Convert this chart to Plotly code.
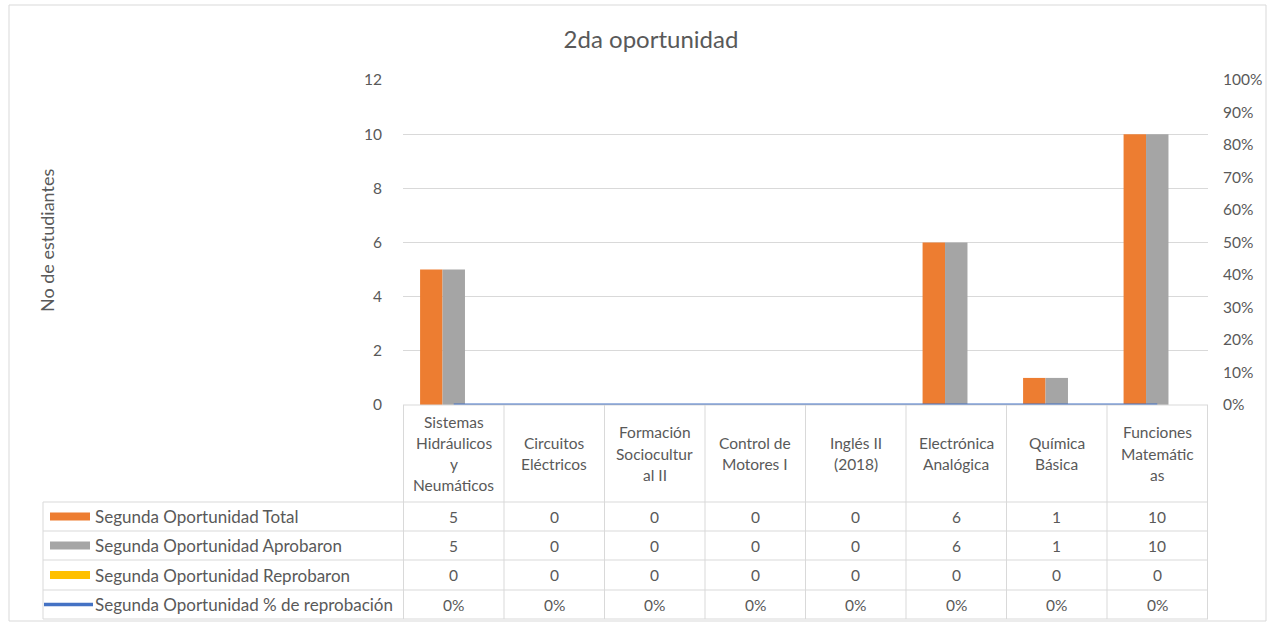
import plotly.graph_objects as go

# -- data
categories = ["Sistemas Hidráulicos y Neumáticos", "Circuitos Eléctricos",
              "Formación Sociocultural II", "Control de Motores I",
              "Inglés II (2018)", "Electrónica Analógica", "Química Básica",
              "Funciones Matemáticas"]
header_labels = [["Sistemas", "Hidráulicos", "y", "Neumáticos"], ["Circuitos", "Eléctricos"],
                 ["Formación", "Sociocultur", "al II"], ["Control de", "Motores I"],
                 ["Inglés II", "(2018)"], ["Electrónica", "Analógica"], ["Química", "Básica"],
                 ["Funciones", "Matemátic", "as"]]
total = [5, 0, 0, 0, 0, 6, 1, 10]
aprobaron = [5, 0, 0, 0, 0, 6, 1, 10]
reprobaron = [0, 0, 0, 0, 0, 0, 0, 0]
pct_reprobacion = [0, 0, 0, 0, 0, 0, 0, 0]

series_names = ["Segunda Oportunidad Total", "Segunda Oportunidad Aprobaron",
                "Segunda Oportunidad Reprobaron", "Segunda Oportunidad % de reprobación"]
colors = ["#ED7D31", "#A5A5A5", "#FFC000", "#4472C4"]

W, H = 1275, 626
FONT = "Lato"
TXT = "#595959"
GRID = "#d9d9d9"
FS = 15.5


def px(x):
    return x / W


def py(y):
    return 1 - y / H


fig = go.Figure()
for vals, name, col in zip([total, aprobaron, reprobaron], series_names[:3], colors[:3]):
    fig.add_trace(go.Bar(x=categories, y=vals, name=name, marker_color=col,
                         marker_line_width=0))
fig.add_trace(go.Scatter(x=categories, y=pct_reprobacion, name=series_names[3],
                         mode="lines", line=dict(color=colors[3], width=3), yaxis="y2"))

# -- data table under the plot
row_edges = [405, 502, 531, 560, 590, 619]
left_x = 43
plot_l, plot_r = 403, 1208

shapes = []
shapes.append(dict(type="line", xref="paper", yref="paper", x0=px(plot_l), x1=px(plot_r),
                   y0=py(405), y1=py(405), line=dict(color=GRID, width=1)))
for y in row_edges[1:]:
    shapes.append(dict(type="line", xref="paper", yref="paper", x0=px(left_x), x1=px(plot_r),
                       y0=py(y), y1=py(y), line=dict(color=GRID, width=1)))
for i in range(len(categories) + 1):
    shapes.append(dict(type="line", xref="x", yref="paper", x0=i - 0.5, x1=i - 0.5,
                       y0=py(405), y1=py(619), line=dict(color=GRID, width=1)))
shapes.append(dict(type="line", xref="paper", yref="paper", x0=px(left_x), x1=px(left_x),
                   y0=py(502), y1=py(619), line=dict(color=GRID, width=1)))
# outer chart border
shapes.append(dict(type="rect", xref="paper", yref="paper", x0=px(9), x1=px(1266),
                   y0=py(621), y1=py(5), line=dict(color="#d9d9d9", width=1)))

annotations = []
line_h = 21
for cat, lines in zip(categories, header_labels):
    y_mid = (405 + 502) / 2
    y_first = y_mid - (len(lines) - 1) * line_h / 2
    for k, ln in enumerate(lines):
        annotations.append(dict(x=cat, y=py(y_first + k * line_h), xref="x", yref="paper",
                                text=ln, showarrow=False, yanchor="middle",
                                font=dict(size=FS, color=TXT, family=FONT)))

rows = [[str(v) for v in total], [str(v) for v in aprobaron],
        [str(v) for v in reprobaron], ["%d%%" % round(v * 100) for v in pct_reprobacion]]
for r, (vals, name, col) in enumerate(zip(rows, series_names, colors)):
    yc = (row_edges[r + 1] + row_edges[r + 2]) / 2
    for cat, v in zip(categories, vals):
        annotations.append(dict(x=cat, y=py(yc), xref="x", yref="paper", text=v,
                                showarrow=False, yanchor="middle",
                                font=dict(size=FS, color=TXT, family=FONT)))
    annotations.append(dict(x=px(93), y=py(yc), xref="paper", yref="paper", text=name,
                            xanchor="left", yanchor="middle", showarrow=False,
                            font=dict(size=17, color=TXT, family=FONT)))
    if r < 3:
        shapes.append(dict(type="rect", xref="paper", yref="paper", x0=px(50), x1=px(90),
                           y0=py(yc + 4), y1=py(yc - 4), fillcolor=col, line_width=0))
    else:
        shapes.append(dict(type="line", xref="paper", yref="paper", x0=px(44), x1=px(93),
                           y0=py(yc), y1=py(yc), line=dict(color=col, width=3.5)))

annotations.append(dict(x=px(47), y=py(241), xref="paper", yref="paper",
                        text="No de estudiantes", textangle=-90, showarrow=False,
                        xanchor="center", yanchor="middle",
                        font=dict(size=18, color=TXT, family=FONT)))

fig.update_layout(
    width=W, height=H,
    margin=dict(l=0, r=0, t=0, b=0, autoexpand=False),
    paper_bgcolor="white", plot_bgcolor="white",
    barmode="group", bargap=0.33, bargroupgap=0,
    showlegend=False,
    title=dict(text="2da oportunidad", x=px(651), y=py(40), xanchor="center", yanchor="middle",
               font=dict(size=24, color=TXT, family=FONT)),
    xaxis=dict(domain=[px(plot_l), px(plot_r)], showticklabels=False, showgrid=False,
               showline=False, ticks="", zeroline=False, automargin=False),
    yaxis=dict(domain=[py(405), py(80)], range=[0, 12], dtick=2, showgrid=True,
               gridcolor=GRID, zeroline=False, showline=False, ticks="",
               ticklabelstandoff=20, automargin=False,
               tickfont=dict(size=FS, color=TXT, family=FONT)),
    yaxis2=dict(overlaying="y", side="right", range=[0, 1], dtick=0.1, tickformat=".0%",
                showgrid=False, zeroline=False, showline=False, ticks="",
                ticklabelstandoff=14, automargin=False,
                tickfont=dict(size=FS, color=TXT, family=FONT)),
    shapes=shapes,
    annotations=annotations,
)

fig.write_html("out.html", config={"displayModeBar": False},
               post_script="document.body.style.margin='0';")
